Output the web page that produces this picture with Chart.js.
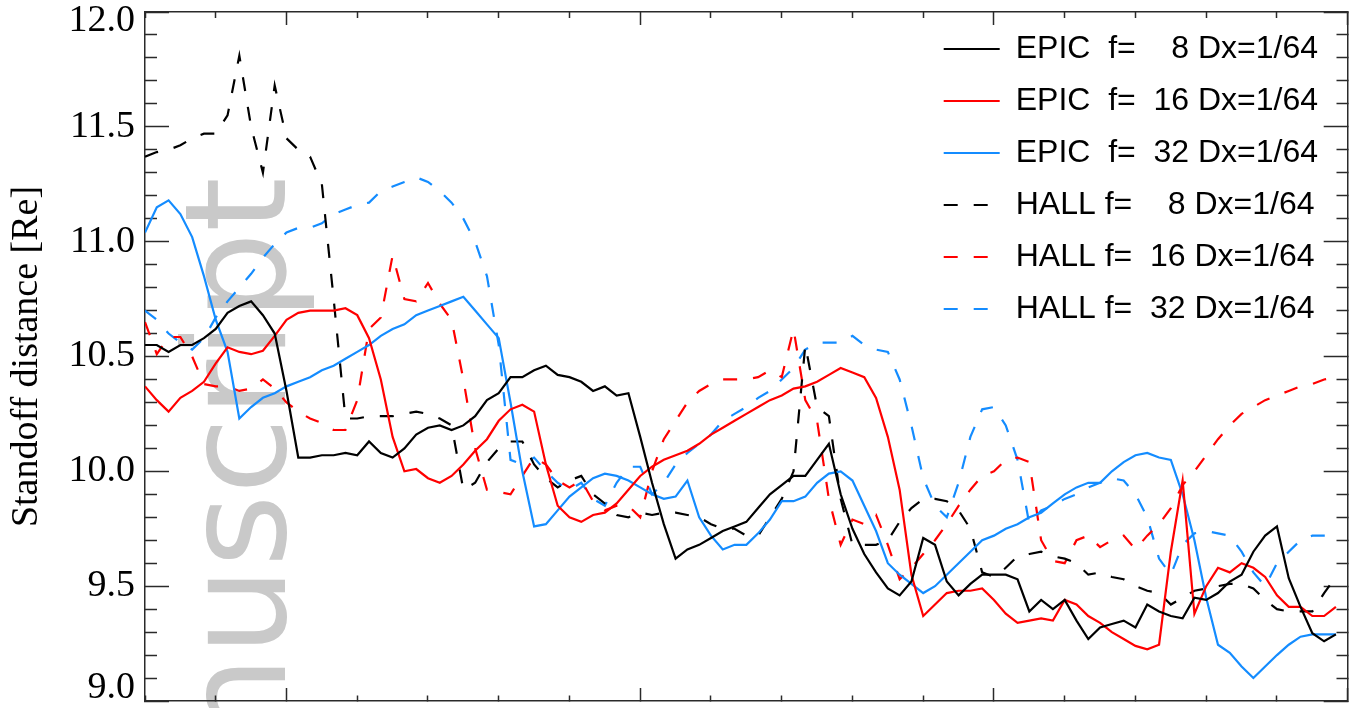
<!DOCTYPE html>
<html><head><meta charset="utf-8">
<script src="https://cdn.jsdelivr.net/npm/chart.js@4/dist/chart.umd.min.js"></script>
<style>html,body{margin:0;padding:0;background:#fff;overflow:hidden}#wrap{width:1366px;height:708px;position:relative}</style>
</head><body><div id="wrap"><canvas id="c" width="1366" height="708"></canvas></div>
<script>
// sample index along the (unlabelled) horizontal axis
const steps = Array.from({length: 102}, (_, i) => i);
const seriesLabels = ['EPIC  f=    8 Dx=1/64','EPIC  f=  16 Dx=1/64','EPIC  f=  32 Dx=1/64','HALL f=    8 Dx=1/64','HALL f=  16 Dx=1/64','HALL f=  32 Dx=1/64'];
const yTickLabels = ['9.0','9.5','10.0','10.5','11.0','11.5','12.0'];
const yTitle = 'Standoff distance [Re]';
const watermark = 'Manuscript';

const epic8 = [10.55,10.55,10.52,10.55,10.55,10.58,10.62,10.69,10.72,10.74,10.68,10.60,10.35,10.06,10.06,10.07,10.07,10.08,10.07,10.13,10.08,10.06,10.10,10.16,10.19,10.20,10.18,10.20,10.24,10.31,10.34,10.41,10.41,10.44,10.46,10.42,10.41,10.39,10.35,10.37,10.33,10.34,10.15,9.95,9.77,9.62,9.66,9.68,9.71,9.74,9.76,9.78,9.84,9.90,9.94,9.98,9.98,10.05,10.12,9.90,9.75,9.64,9.56,9.49,9.46,9.52,9.71,9.68,9.52,9.46,9.51,9.55,9.55,9.55,9.53,9.39,9.44,9.40,9.44,9.35,9.27,9.32,9.335,9.35,9.32,9.42,9.39,9.37,9.36,9.45,9.44,9.47,9.52,9.55,9.65,9.72,9.76,9.535,9.41,9.295,9.26,9.29];
const epic16 = [10.37,10.31,10.26,10.32,10.35,10.39,10.47,10.54,10.52,10.51,10.525,10.59,10.66,10.69,10.70,10.70,10.70,10.71,10.68,10.58,10.40,10.15,10.00,10.01,9.97,9.95,9.98,10.03,10.09,10.14,10.22,10.27,10.29,10.26,10.03,9.85,9.80,9.78,9.81,9.82,9.86,9.92,9.98,10.02,10.05,10.07,10.09,10.12,10.16,10.19,10.22,10.25,10.28,10.31,10.33,10.36,10.37,10.39,10.42,10.45,10.43,10.41,10.32,10.15,9.92,9.55,9.37,9.42,9.47,9.48,9.48,9.49,9.44,9.38,9.34,9.35,9.36,9.35,9.44,9.42,9.37,9.34,9.30,9.27,9.24,9.225,9.245,9.65,9.96,9.38,9.50,9.58,9.56,9.60,9.58,9.54,9.46,9.41,9.41,9.37,9.37,9.41];
const epic32 = [11.04,11.15,11.18,11.12,11.02,10.85,10.66,10.52,10.23,10.28,10.32,10.34,10.37,10.39,10.41,10.44,10.46,10.49,10.52,10.55,10.59,10.62,10.64,10.68,10.70,10.72,10.74,10.76,10.70,10.64,10.58,10.30,10.00,9.76,9.77,9.83,9.89,9.93,9.97,9.99,9.98,9.96,9.93,9.90,9.88,9.89,9.96,9.80,9.72,9.66,9.68,9.68,9.73,9.79,9.87,9.87,9.89,9.95,9.99,10.00,9.96,9.85,9.74,9.60,9.55,9.51,9.47,9.50,9.55,9.60,9.65,9.70,9.72,9.75,9.77,9.80,9.82,9.86,9.90,9.93,9.95,9.95,10.00,10.04,10.07,10.08,10.06,10.05,9.90,9.70,9.45,9.245,9.21,9.15,9.10,9.15,9.20,9.245,9.28,9.29,9.29,9.29];
const hall8 = [11.37,11.39,11.40,11.42,11.45,11.47,11.47,11.55,11.81,11.50,11.30,11.68,11.45,11.40,11.37,11.25,10.75,10.23,10.23,10.24,10.24,10.24,10.25,10.26,10.25,10.23,10.20,9.92,9.95,10.04,10.10,10.13,10.13,10.03,9.97,9.93,9.96,9.98,9.90,9.86,9.81,9.80,9.82,9.81,9.82,9.82,9.81,9.80,9.77,9.75,9.75,9.72,9.72,9.80,9.88,10.00,10.55,10.28,10.24,9.88,9.68,9.68,9.68,9.70,9.78,9.84,9.88,9.88,9.87,9.83,9.75,9.56,9.54,9.58,9.63,9.64,9.65,9.63,9.62,9.60,9.55,9.56,9.54,9.53,9.50,9.48,9.47,9.42,9.45,9.48,9.49,9.50,9.51,9.51,9.49,9.44,9.40,9.39,9.39,9.39,9.47,9.54];
const hall16 = [10.65,10.51,10.585,10.585,10.50,10.38,10.37,10.37,10.35,10.36,10.40,10.36,10.30,10.26,10.23,10.21,10.18,10.18,10.31,10.62,10.67,10.94,10.75,10.74,10.82,10.73,10.66,10.40,10.10,9.92,9.91,9.90,9.98,10.06,10.03,9.96,9.93,9.96,9.87,9.83,9.85,9.85,9.80,10.00,10.14,10.22,10.30,10.35,10.38,10.40,10.40,10.40,10.41,10.44,10.41,10.62,10.31,10.22,9.88,9.68,9.79,9.77,9.81,9.68,9.53,9.58,9.64,9.70,9.77,9.85,9.92,9.98,10.00,10.05,10.06,10.04,9.70,9.61,9.60,9.70,9.72,9.67,9.70,9.72,9.66,9.72,9.77,9.84,9.94,10.00,10.07,10.14,10.20,10.25,10.28,10.31,10.33,10.35,10.37,10.38,10.40,10.41];
const hall32 = [10.70,10.66,10.60,10.56,10.53,10.58,10.67,10.74,10.80,10.86,10.93,10.99,11.04,11.06,11.06,11.08,11.12,11.14,11.16,11.17,11.22,11.24,11.26,11.28,11.26,11.22,11.17,11.10,11.00,10.85,10.55,10.05,10.03,10.06,10.00,9.95,9.92,9.95,9.88,9.85,9.95,10.02,10.02,9.90,9.95,10.03,10.08,10.12,10.16,10.22,10.25,10.28,10.32,10.35,10.40,10.45,10.53,10.56,10.56,10.56,10.59,10.55,10.53,10.52,10.40,10.20,9.97,9.85,9.80,9.95,10.15,10.27,10.28,10.20,10.05,9.77,9.83,9.85,9.88,9.90,9.93,9.95,9.97,9.96,9.90,9.80,9.62,9.55,9.68,9.73,9.74,9.73,9.72,9.65,9.56,9.50,9.60,9.65,9.70,9.72,9.72,9.72];

const BLACK = '#000000', RED = '#ff0000', BLUE = '#148cff', AXIS = '#2a2a2a';
const DASH = [14, 16];
function ds(label, vals, color, dashed) {
  return { label, data: vals.map((v, i) => ({ x: steps[i], y: v })), borderColor: color, backgroundColor: color,
    borderWidth: 2.2, borderDash: dashed ? DASH : [], pointRadius: 0, pointHoverRadius: 0, tension: 0, fill: false };
}
const isMajorY = v => Math.abs(v * 2 - Math.round(v * 2)) < 1e-6;
const isMajorX = v => ((Math.round(v) - 12) % 30 + 30) % 30 === 0;

const watermarkPlugin = {
  id: 'watermark',
  beforeDraw(chart) {
    const c = chart.ctx; c.save();
    c.translate(285, 177); c.rotate(-Math.PI / 2);
    c.font = '140px "DejaVu Sans", sans-serif'; c.fillStyle = '#c9c9c9';
    c.textAlign = 'right'; c.textBaseline = 'alphabetic';
    c.fillText(watermark, 0, 0); c.restore();
  }
};
const legendPlacer = {
  id: 'legendPlacer',
  afterLayout(chart) {
    const lg = chart.legend; if (!lg) return;
    const pad = lg.options.labels.padding;
    lg.left = chart.chartArea.right - 404 - pad; lg.right = chart.chartArea.right; lg.width = lg.right - lg.left;
    lg.top = lg.top + 13; lg.bottom = lg.bottom + 13;
  }
};

new Chart(document.getElementById('c'), {
  type: 'line',
  data: { datasets: [
    ds(seriesLabels[0], epic8, BLACK, false), ds(seriesLabels[1], epic16, RED, false), ds(seriesLabels[2], epic32, BLUE, false),
    ds(seriesLabels[3], hall8, BLACK, true), ds(seriesLabels[4], hall16, RED, true), ds(seriesLabels[5], hall32, BLUE, true)
  ]},
  plugins: [watermarkPlugin, legendPlacer],
  options: {
    responsive: false, animation: false, events: [],
    layout: { padding: { top: 12, right: 18.3, bottom: 7, left: 0 } },
    plugins: {
      tooltip: { enabled: false },
      legend: { position: 'chartArea', align: 'start',
        labels: { usePointStyle: true, pointStyle: 'line', pointStyleWidth: 56, padding: 20, color: '#000',
          font: { family: '"Liberation Sans", Arial, sans-serif', size: 32 },
          generateLabels: chart => Chart.defaults.plugins.legend.labels.generateLabels(chart).map(it => {
            const d = chart.data.datasets[it.datasetIndex];
            it.lineDash = d.borderDash; it.lineWidth = d.borderWidth; it.strokeStyle = d.borderColor;
            return it;
          }) } }
    },
    scales: {
      x: { type: 'linear', position: 'bottom', min: 0, max: 102,
        ticks: { display: false, stepSize: 6 },
        grid: { drawOnChartArea: false, drawTicks: true, tickLength: -13, tickColor: AXIS, tickWidth: 1.5,
          tickBorderDash: c => isMajorX(c.tick.value) ? [] : [6, 100] },
        border: { display: true, color: AXIS, width: 1.5 },
        afterFit: s => { s.height = 0; s.paddingLeft = 0; s.paddingRight = 0; } },
      x2: { type: 'linear', position: 'top', min: 0, max: 102,
        ticks: { display: false, stepSize: 6 },
        grid: { drawOnChartArea: false, drawTicks: true, tickLength: -13, tickColor: AXIS, tickWidth: 1.5,
          tickBorderDash: c => isMajorX(c.tick.value) ? [] : [6, 7],
          tickBorderDashOffset: c => isMajorX(c.tick.value) ? 0 : 6 },
        border: { display: true, color: AXIS, width: 1.5 },
        afterFit: s => { s.height = 0; s.paddingLeft = 0; s.paddingRight = 0; } },
      y: { type: 'linear', position: 'left', min: 9, max: 12,
        ticks: { stepSize: 0.1, autoSkip: false, padding: 34, color: '#000',
          font: c => {
            const v = c.tick ? c.tick.value : 0;
            let lh = 1.2;
            if (Math.abs(v - 12) < 1e-6) lh = '19px';
            if (Math.abs(v - 9) < 1e-6) lh = '25px';
            return { family: '"Liberation Serif", "Times New Roman", serif', size: 38, lineHeight: lh };
          },
          callback: v => {
            if (!isMajorY(v)) return '';
            const lab = yTickLabels[Math.round((v - 9) * 2)];
            if (Math.abs(v - 12) < 1e-6) return ['', lab];
            if (Math.abs(v - 9) < 1e-6) return [lab, ''];
            return lab;
          } },
        grid: { drawOnChartArea: false, drawTicks: true, tickLength: -24, tickColor: AXIS, tickWidth: 1.5,
          tickBorderDash: c => isMajorY(c.tick.value) ? [] : [12, 12],
          tickBorderDashOffset: c => isMajorY(c.tick.value) ? 0 : 12 },
        border: { display: true, color: AXIS, width: 1.5 },
        title: { display: true, text: yTitle, color: '#000', padding: { top: 4, bottom: 0 },
          font: { family: '"Liberation Serif", "Times New Roman", serif', size: 38 } },
        afterFit: s => { s.width = 145; s.paddingTop = 0; s.paddingBottom = 0; } },
      y2: { type: 'linear', position: 'right', min: 9, max: 12,
        ticks: { display: false, stepSize: 0.1, autoSkip: false },
        grid: { drawOnChartArea: false, drawTicks: true, tickLength: -24, tickColor: AXIS, tickWidth: 1.5,
          tickBorderDash: c => isMajorY(c.tick.value) ? [] : [12, 100] },
        border: { display: true, color: AXIS, width: 1.5 },
        afterFit: s => { s.width = 0; s.paddingTop = 0; s.paddingBottom = 0; } }
    }
  }
});
</script></body></html>
